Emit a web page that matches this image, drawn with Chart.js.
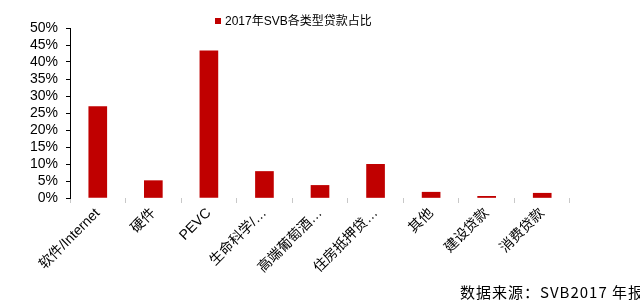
<!DOCTYPE html>
<html lang="zh">
<head>
  <meta charset="UTF-8">
  <title>2017年SVB各类型贷款占比</title>
  <style>
    body { margin: 0; background: #fff; }
    .wrap { position: relative; width: 640px; height: 304px; }
    canvas { display: block; }
    .legend {
      position: absolute; left: 215px; top: 11px;
      font: 12px "Liberation Sans", "Noto Sans CJK SC", sans-serif; color: #000;
      white-space: nowrap;
    }
    .legend i {
      display: inline-block; width: 6px; height: 6px; background: #C00000;
      margin-right: 4px; vertical-align: 1px;
    }
    .source {
      position: absolute; left: 460px; top: 281px;
      font: 15px "Noto Sans CJK SC", sans-serif; color: #000;
      letter-spacing: 1px; white-space: nowrap;
    }
  </style>
  <script src="https://cdn.jsdelivr.net/npm/chart.js"></script>
</head>
<body>
  <div class="wrap">
    <canvas id="c" width="640" height="304"></canvas>
    <div class="legend"><i></i>2017年SVB各类型贷款占比</div>
    <div class="source">数据来源：SVB2017 年报</div>
  </div>
  <script>
    // 类别与占比（%）
    const categories = ['软件/Internet', '硬件', 'PEVC', '生命科学/…', '高端葡萄酒…', '住房抵押贷…', '其他', '建设贷款', '消费贷款'];
    const shares = [26.9, 5.1, 43.3, 7.8, 3.7, 9.9, 1.7, 0.5, 1.4];
    const seriesName = '2017年SVB各类型贷款占比';

    const font = { family: '"Liberation Sans", "Noto Sans CJK SC", sans-serif', size: 14 };

    new Chart(document.getElementById('c'), {
      type: 'bar',
      data: {
        labels: categories,
        datasets: [{
          label: seriesName,
          data: shares,
          backgroundColor: '#C00000',
          barThickness: 18
        }]
      },
      options: {
        responsive: false,
        animation: false,
        layout: { padding: { top: 28, right: 70, left: 0, bottom: 0 } },
        plugins: { legend: { display: false }, tooltip: { enabled: false } },
        scales: {
          x: {
            grid: { display: true, drawOnChartArea: false, tickLength: 5, color: '#c8c8c8', offset: true },
            border: { display: false },
            ticks: { color: '#000', font: font, maxRotation: 45, minRotation: 45, autoSkip: false, padding: 2 },
            afterFit: s => { s.height = 106; }
          },
          y: {
            min: 0, max: 50,
            grid: { display: true, drawOnChartArea: false, tickLength: 4, color: '#000' },
            border: { display: true, color: '#000' },
            ticks: { stepSize: 5, autoSkip: false, color: '#000', font: font, padding: 8, callback: v => v + '%' },
            afterFit: s => { s.width = 70; }
          }
        }
      }
    });
  </script>
</body>
</html>
